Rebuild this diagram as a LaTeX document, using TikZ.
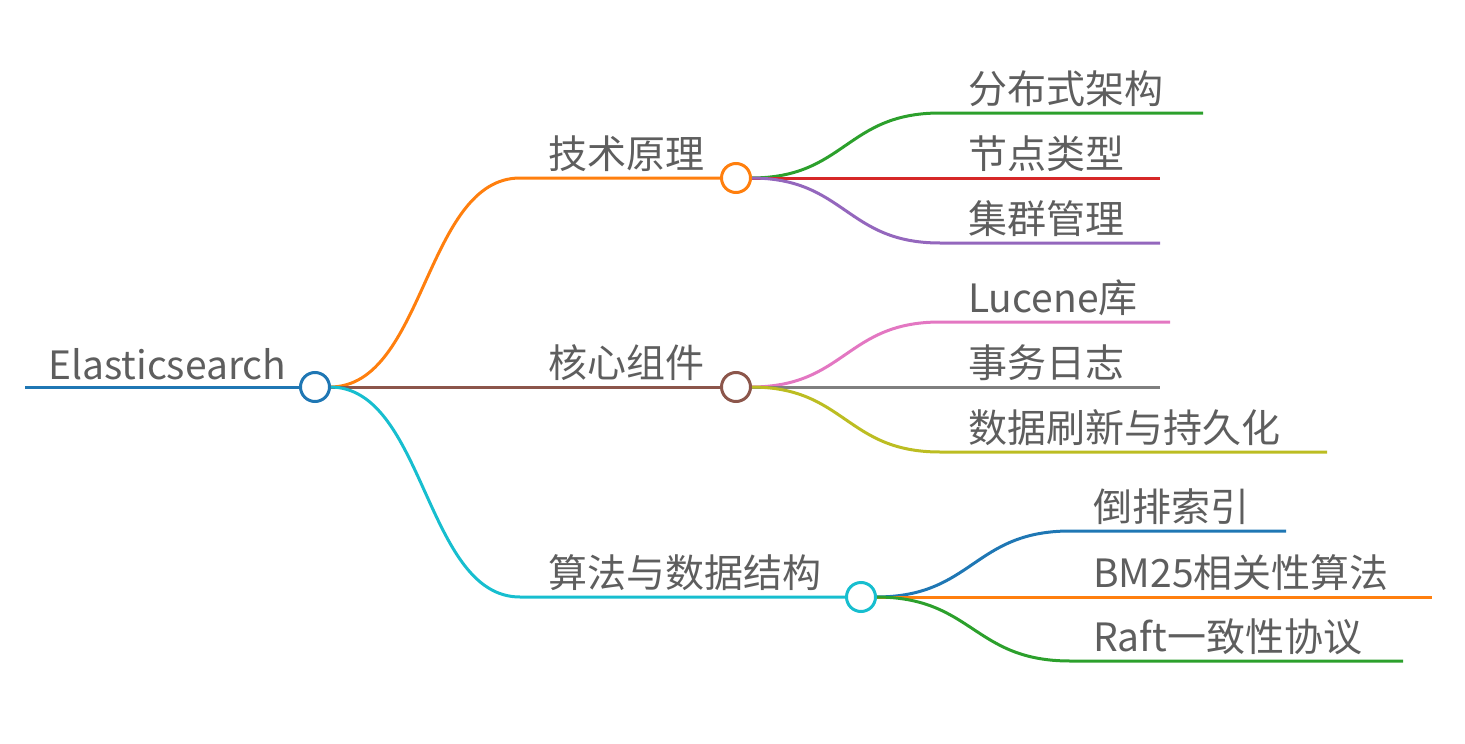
\documentclass[tikz,border=0pt]{standalone}
\usepackage{fontspec}
\setmainfont{Noto Sans CJK SC}
\definecolor{cO}{HTML}{FF7F0E}\definecolor{cG}{HTML}{2CA02C}\definecolor{cR}{HTML}{D62728}
\definecolor{cP}{HTML}{9467BD}\definecolor{cBr}{HTML}{8C564B}\definecolor{cPk}{HTML}{E377C2}
\definecolor{cGy}{HTML}{7F7F7F}\definecolor{cOl}{HTML}{BCBD22}\definecolor{cC}{HTML}{17BECF}
\definecolor{cB}{HTML}{1F77B4}\definecolor{txt}{HTML}{5E5E5E}
\begin{document}
\begin{tikzpicture}[x=1pt,y=-1pt,
 br/.style={line width=3pt},
 dot/.style={circle,line width=3pt,fill=white,minimum size=29pt,inner sep=0pt},
 lbl/.style={anchor=south west,text=txt,font=\fontsize{39}{42}\selectfont,inner sep=0pt}]
\useasboundingbox (0,0) rectangle (1465,744);
\newcommand\curv[6]{% color, from(x,y), to(x,y)
 \draw[br,#1] (#2,#3) .. controls ({(#2+#4)/2},#3) and ({(#2+#4)/2},#5) .. (#4,#5) -- (#6,#5);}
% root
\draw[br,cB] (25,387) coordinate (r0) -- (300,387);
\node[lbl] (tr) at (48,380) {Elasticsearch};
% level 1
\curv{cO}{330}{387}{520}{178}{722}
\draw[br,cBr] (330,387) -- (722,387);
\curv{cC}{330}{387}{520}{597}{847}
\node[dot,draw=cB] (root) at (315,387) {};
\node[lbl] (t1) at (548,172) {技术原理};
\node[lbl] (t2) at (548,381) {核心组件};
\node[lbl] (t3) at (548,591) {算法与数据结构};
% level 2 of 1
\curv{cG}{751}{178}{940}{113}{1203}
\draw[br,cR] (751,178) -- (1160,178);
\curv{cP}{751}{178}{940}{243}{1160}
\node[dot,draw=cO] (n1) at (736,178) {};
\node[lbl] at (968,107) {分布式架构};
\node[lbl] at (968,172) {节点类型};
\node[lbl] at (968,237) {集群管理};
% level 2 of 2
\curv{cPk}{751}{387}{940}{322}{1170}
\draw[br,cGy] (751,387) -- (1160,387);
\curv{cOl}{751}{387}{940}{452}{1327}
\node[dot,draw=cBr] (n2) at (736,387) {};
\node[lbl] at (968,316) {Lucene库};
\node[lbl] at (968,381) {事务日志};
\node[lbl] at (968,446) {数据刷新与持久化};
% level 2 of 3
\curv{cB}{876}{597}{1070}{531}{1286}
\draw[br,cO] (876,597) -- (1432,597);
\curv{cG}{876}{597}{1070}{661}{1403}
\node[dot,draw=cC] (n3) at (861,597) {};
\node[lbl] at (1093,525) {倒排索引};
\node[lbl] at (1093,591) {BM25相关性算法};
\node[lbl] at (1093,655) {Raft一致性协议};
\end{tikzpicture}
\end{document}
